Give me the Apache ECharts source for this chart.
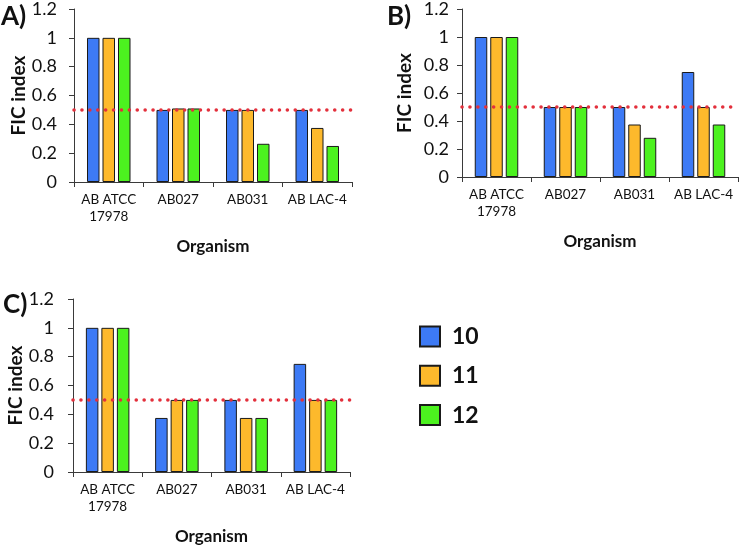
<!DOCTYPE html>
<html>
<head>
<meta charset="utf-8">
<script src="https://cdn.jsdelivr.net/npm/echarts@6/dist/echarts.min.js"></script>
<style>html,body{margin:0;padding:0;background:#fff}#c{width:741px;height:548px}</style>
</head>
<body>
<div id="c"></div>
<script>
const categories = ['AB ATCC\n17978', 'AB027', 'AB031', 'AB LAC-4'];
const seriesNames = ['10', '11', '12'];
const panelA10 = [1, 0.5, 0.5, 0.5];
const panelA11 = [1, 0.51, 0.5, 0.375];
const panelA12 = [1, 0.51, 0.265, 0.25];
const panelB10 = [1, 0.5, 0.5, 0.75];
const panelB11 = [1, 0.5, 0.375, 0.5];
const panelB12 = [1, 0.5, 0.28, 0.375];
const panelC10 = [1, 0.375, 0.5, 0.75];
const panelC11 = [1, 0.5, 0.375, 0.5];
const panelC12 = [1, 0.5, 0.375, 0.5];
const threshold = 0.5;
const panelLabels = ['A)', 'B)', 'C)'];
const xTitle = 'Organism';
const yTitle = 'FIC index';

const colors = ['#3d7af5', '#fdb92c', '#4cf21f'];
const FONT = 'Lato';
const axisColor = '#3a3a3a';

const panels = [
  [panelA10, panelA11, panelA12],
  [panelB10, panelB11, panelB12],
  [panelC10, panelC11, panelC12]
];
const grids = [
  {left: 74, top: 8, width: 278, height: 174},
  {left: 462, top: 8, width: 276, height: 169},
  {left: 73, top: 299, width: 277, height: 173}
];
const yLabelMargins = [17, 13, 19];
const yNameGaps = [45, 48, 44];

const xAxes = [], yAxes = [], series = [];
grids.forEach((g, i) => {
  xAxes.push({
    type: 'category', gridIndex: i, data: categories,
    axisLine: {lineStyle: {color: axisColor, width: 1}},
    axisTick: {show: true, length: 5, lineStyle: {color: axisColor}},
    axisLabel: {interval: 0, hideOverlap: false, fontFamily: FONT, fontSize: 13.5, color: '#111', margin: 9, lineHeight: 17},
    name: xTitle, nameLocation: 'middle', nameGap: 56,
    nameTextStyle: {fontFamily: FONT, fontSize: 17, fontWeight: 'bold', color: '#111'}
  });
  yAxes.push({
    type: 'value', gridIndex: i, min: 0, max: 1.2, interval: 0.2,
    splitLine: {show: false},
    axisLine: {show: true, lineStyle: {color: axisColor, width: 1}},
    axisTick: {show: true, length: 5, lineStyle: {color: axisColor}},
    axisLabel: {fontFamily: FONT, fontSize: 18, color: '#111', margin: yLabelMargins[i]},
    name: yTitle, nameLocation: 'middle', nameGap: yNameGaps[i], nameRotate: 90,
    nameTextStyle: {fontFamily: FONT, fontSize: 19, fontWeight: 'bold', color: '#111'}
  });
  panels[i].forEach((vals, s) => {
    const ser = {
      type: 'bar', name: seriesNames[s], xAxisIndex: i, yAxisIndex: i,
      data: vals, barWidth: 12.5, barGap: '24%',
      itemStyle: {color: colors[s], borderColor: '#1a1a1a', borderWidth: 1},
      emphasis: {disabled: true}, animation: false
    };
    if (s === 2) {
      ser.markLine = {
        silent: true, symbol: 'none', label: {show: false}, animation: false,
        lineStyle: {color: '#e3303c', width: 3.5, type: [0.1, 7.8], cap: 'round'},
        data: [{yAxis: threshold}]
      };
    }
    series.push(ser);
  });
});

const chart = echarts.init(document.getElementById('c'), null, {renderer: 'canvas'});
chart.setOption({
  backgroundColor: '#fff',
  animation: false,
  grid: grids,
  xAxis: xAxes,
  yAxis: yAxes,
  series: series,
  legend: {
    data: seriesNames, orient: 'vertical', left: 419, top: 325, padding: 0,
    itemWidth: 20, itemHeight: 20, itemGap: 16.3, icon: 'rect',
    selectedMode: false,
    textStyle: {fontFamily: FONT, fontSize: 23, fontWeight: 'bold', color: '#111', lineHeight: 20, padding: [0, 0, 0, 7]}
  },
  title: [
    {text: panelLabels[0], left: 1, top: 4, textStyle: {fontFamily: FONT, fontSize: 26, fontWeight: 'bold', color: '#111'}, padding: 0},
    {text: panelLabels[1], left: 387, top: 4, textStyle: {fontFamily: FONT, fontSize: 26, fontWeight: 'bold', color: '#111'}, padding: 0},
    {text: panelLabels[2], left: 3, top: 292, textStyle: {fontFamily: FONT, fontSize: 26, fontWeight: 'bold', color: '#111'}, padding: 0}
  ]
});
</script>
</body>
</html>
